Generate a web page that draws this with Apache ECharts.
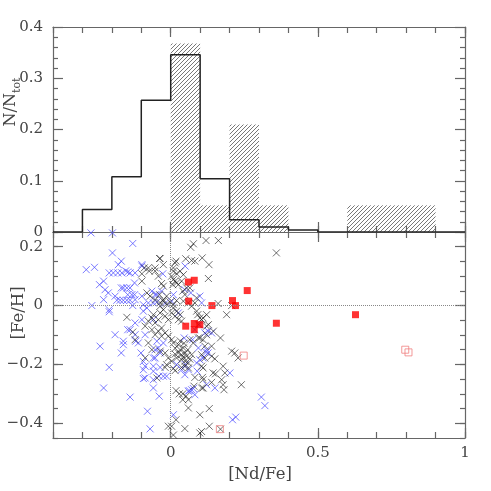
<!DOCTYPE html>
<html><head><meta charset="utf-8">
<script src="https://cdn.jsdelivr.net/npm/echarts@6/dist/echarts.min.js"></script>
<style>html,body{margin:0;padding:0;background:#fff}#c{width:491px;height:491px}</style>
</head><body><div id="c"></div>
<script>
// ---- histogram data (top panel) ----
const binEdges = [-0.4,-0.3,-0.2,-0.1,0,0.1,0.2,0.3,0.4,0.5,0.6,0.7,0.8,0.9,1.0];
const allFrac  = [0,0.044,0.108,0.257,0.346,0.104,0.024,0.010,0.004,0,0,0,0,0];
const starFrac = [0,0,0,0,0.368,0.052,0.21,0.052,0,0,0.052,0.052,0.052,0];

// ---- scatter data (bottom panel): [ [Nd/Fe], [Fe/H] ] ----
const blueX = [
[-0.271,0.247],[-0.198,0.247],[-0.129,0.211],[-0.198,0.179],[-0.287,0.122],[-0.259,0.13],[-0.178,0.139],[-0.168,0.151],
[-0.209,0.111],[-0.195,0.111],[-0.18,0.111],[-0.166,0.111],[-0.153,0.118],[-0.146,0.114],[-0.138,0.111],[-0.121,0.111],[-0.098,0.139],
[-0.242,0.071],[-0.228,0.083],[-0.223,0.054],[-0.212,0.043],[-0.228,0.02],[-0.189,0.032],
[-0.168,0.06],[-0.161,0.06],[-0.149,0.06],[-0.138,0.06],[-0.123,0.077],[-0.146,0.037],[-0.132,0.037],[-0.123,0.037],
[-0.183,0.018],[-0.172,0.018],[-0.161,0.018],[-0.149,0.018],[-0.138,0.018],[-0.121,0.02],
[-0.268,0.0],[-0.209,-0.014],[-0.209,-0.021],[-0.129,0.0],[-0.121,-0.059],[-0.146,-0.082],[-0.138,-0.082],[-0.098,-0.048],
[-0.189,-0.099],[-0.121,-0.099],[-0.119,-0.121],[-0.161,-0.121],[-0.161,-0.133],[-0.168,-0.161],[-0.24,-0.138],[-0.101,-0.161],
[-0.093,-0.19],[-0.093,-0.218],[-0.093,-0.248],[-0.209,-0.21],[-0.228,-0.28],[-0.138,-0.311],[-0.093,-0.019],[-0.11,-0.127],
[-0.079,-0.359],[-0.07,-0.419],[-0.059,-0.178],[-0.059,-0.206],[-0.059,-0.252],[-0.053,-0.15],[-0.042,-0.144],[-0.036,-0.161],
[-0.04,-0.24],[-0.025,-0.24],[-0.014,-0.24],[-0.059,-0.28],[-0.039,-0.308],[0.009,-0.371],[-0.087,-0.099],
[0.048,-0.235],[0.06,-0.218],[0.06,-0.291],[0.071,-0.286],[0.082,-0.303],[0.088,-0.195],[0.099,-0.184],[0.122,-0.15],[0.127,-0.161],
[0.116,-0.093],[0.127,-0.087],[0.139,-0.093],[0.12,-0.159],[0.201,-0.229],[0.122,-0.269],[0.15,-0.28],[0.308,-0.311],[0.32,-0.34],
[0.21,-0.388],[0.221,-0.379],[-0.093,0.003],[-0.081,-0.008],[-0.076,0.009],[-0.059,-0.047],[-0.047,-0.121],[-0.025,-0.127],
[-0.087,-0.206],[-0.053,-0.178],[-0.036,-0.21],[0.094,-0.144],[0.11,-0.178],[0.082,-0.082],[0.099,-0.065],
[-0.098,0.134],[-0.027,0.108],[0.048,0.054],[-0.053,0.037],[-0.047,0.037],[0.009,0.037],[-0.098,0.032],[0.099,0.032],[0.105,0.009],
[-0.047,0.012],[-0.019,0.008],[0.003,0.015],[-0.064,0.049],[-0.031,0.049],[-0.059,0.009],
[0.049,0.134],[0.068,0.043],[0.026,-0.025],[0.046,-0.11],[0.074,-0.116],[0.09,-0.223],[0.02,-0.2],[0.037,-0.218],[0.049,-0.2],
[-0.087,-0.246],[-0.059,-0.223],[0.063,-0.289],[0.077,-0.282]
];
const blackX = [
[0.12,0.221],[0.162,0.221],[0.068,0.198],[0.077,0.21],[-0.038,0.16],[0.018,0.151],[0.051,0.159],[0.071,0.153],[0.082,0.151],[0.107,0.162],[0.13,0.139],[0.128,0.092],[0.359,0.179],
[-0.09,0.128],[-0.073,0.117],[-0.053,0.128],[-0.098,0.108],[-0.098,0.083],[-0.036,0.16],[-0.025,0.139],[-0.076,0.128],[-0.053,0.117],[-0.042,0.1],
[0.015,0.145],[0.009,0.128],[0.009,0.117],[0.02,0.108],[0.032,0.117],[0.043,0.105],[0.003,0.1],[0.009,0.088],[0.015,0.083],[0.02,0.077],[0.007,0.071],[0.026,0.071],[0.037,0.083],
[-0.025,0.066],[-0.031,0.075],[0.054,0.06],[0.065,0.06],[0.048,0.037],[0.041,0.049],[0.088,0.026],[0.161,0.007],[0.207,0.0],[0.19,-0.031],
[-0.081,0.043],[-0.07,0.032],[-0.053,0.02],[-0.038,0.037],[-0.025,0.02],[-0.014,0.032],
[-0.036,0.01],[-0.025,0.015],[-0.014,0.005],[-0.002,0.012],[0.009,0.003],[0.02,0.017],
[0.122,-0.031],[0.11,-0.042],[0.122,-0.07],[0.092,-0.031],[0.128,-0.065],[0.145,-0.087],[0.122,-0.099],[0.099,-0.11],
[-0.059,-0.031],[-0.064,-0.042],[-0.076,-0.053],[-0.053,-0.059],[-0.042,-0.048],[-0.036,-0.025],[-0.025,-0.014],[-0.036,-0.002],[-0.019,-0.036],[-0.008,-0.048],
[0.009,-0.008],[0.02,-0.019],[0.003,-0.025],[0.015,-0.036],[0.032,-0.031],[0.026,-0.048],[0.037,-0.053],[0.043,0.015],[0.06,0.009],[0.071,-0.002],
[-0.087,-0.07],[-0.064,-0.082],[-0.042,-0.087],[-0.031,-0.076],[-0.019,-0.093],[-0.053,-0.099],[-0.031,-0.104],[-0.008,-0.104],[0.003,-0.116],
[0.009,-0.127],[0.026,-0.133],[0.032,-0.15],[0.043,-0.144],[0.026,-0.161],[0.037,-0.167],[0.049,-0.161],[0.054,-0.172],[0.02,-0.178],[0.037,-0.184],[0.049,-0.189],[0.06,-0.195],[0.065,-0.182],[0.071,-0.167],
[0.015,-0.145],[0.032,-0.12],[0.045,-0.128],[0.058,-0.15],[0.015,-0.165],[0.043,-0.175],
[-0.036,-0.155],[-0.019,-0.161],[-0.008,-0.178],[0.003,-0.189],[-0.014,-0.201],[-0.076,-0.127],[-0.064,-0.15],[-0.087,-0.178],
[0.082,0.009],[0.088,-0.019],[0.099,-0.042],[0.094,-0.065],[0.065,-0.116],[0.077,-0.127],[0.094,-0.11],[0.11,-0.116],[0.105,-0.048],
[-0.129,-0.09],[-0.149,-0.04],[-0.121,-0.116],
[0.169,-0.11],[0.116,-0.138],[0.139,-0.138],[0.105,-0.167],[0.116,-0.178],[0.139,-0.172],[0.15,-0.181],[0.105,-0.206],[0.11,-0.212],[0.207,-0.155],[0.218,-0.161],[0.229,-0.178],
[0.178,-0.206],[0.184,-0.229],[0.144,-0.229],[0.152,-0.232],[0.11,-0.252],[0.139,-0.261],[0.173,-0.252],[0.178,-0.269],[0.11,-0.28],[0.181,-0.286],[0.24,-0.269],[0.131,-0.35],[0.131,-0.41],[0.169,-0.42],[0.105,-0.428],
[-0.019,-0.21],[0.009,-0.214],[0.015,-0.221],[0.037,-0.21],[0.048,-0.206],[0.06,-0.212],[-0.047,-0.246],
[0.018,-0.289],[0.029,-0.3],[0.041,-0.3],[0.052,-0.308],[0.041,-0.32],[0.06,-0.32],[0.06,-0.348],[0.099,-0.371],[0.099,-0.433],[0.048,-0.418],[0.018,-0.388],[0.003,-0.41],[-0.008,-0.41],[0.009,-0.44],
[0.082,-0.244],[0.108,-0.244],[0.079,-0.274],[0.105,-0.28]
];
const redFilled = [[0.06,0.08],[0.08,0.086],[0.061,0.015],[0.14,0.0],[0.21,0.017],[0.22,0.0],[0.26,0.051],[0.051,-0.07],[0.08,-0.061],[0.08,-0.082],[0.099,-0.065],[0.359,-0.06],[0.628,-0.031]];
const redOpen = [[0.248,-0.17],[0.797,-0.15],[0.808,-0.159],[0.167,-0.42]];

// ---- tick labels ----
const xTickVals = [0,0.5,1];           const xTickLabels = ['0','0.5','1'];
const topYTickVals = [0,0.1,0.2,0.3,0.4]; const topYTickLabels = ['0','0.1','0.2','0.3','0.4'];
const lowYTickVals = [-0.4,-0.2,0,0.2];  const lowYTickLabels = ['\u22120.4','\u22120.2','0','0.2'];

const FONT = 'DejaVu Serif';
const TXT = '#444';
const AX = {color:'#666', width:1.2};

function fmt(vals, labels){ return v => { for (let i=0;i<vals.length;i++){ if (Math.abs(v-vals[i])<1e-6) return labels[i]; } return ''; }; }

// hatch pattern
const s = 4;
const cv = document.createElement('canvas'); cv.width = s; cv.height = s;
const ctx = cv.getContext('2d');
ctx.strokeStyle = '#555'; ctx.lineWidth = 0.8;
ctx.beginPath();
ctx.moveTo(0,s); ctx.lineTo(s,0);
ctx.moveTo(-1,1); ctx.lineTo(1,-1);
ctx.moveTo(s-1,s+1); ctx.lineTo(s+1,s-1);
ctx.stroke();
const hatch = {image: cv, repeat: 'repeat'};

const hatchData = [];
starFrac.forEach((v,i)=>{ if (v>0) hatchData.push([binEdges[i], binEdges[i+1], v]); });
const stepData = [];
allFrac.forEach((v,i)=>{ stepData.push([binEdges[i], v]); stepData.push([binEdges[i+1], v]); });

function xAxisCfg(grid, pos, long, labels){
  return {gridIndex:grid, type:'value', min:-0.4, max:1, interval:0.1, position:pos,
    axisLine:{show:!long, lineStyle:AX, onZero:false},
    axisTick:long ? {show:true, inside:true, length:10, lineStyle:AX, customValues:xTickVals} : {show:true, inside:true, length:6, lineStyle:AX},
    axisLabel: labels ? {show:true, margin:8, fontFamily:FONT, fontSize:15, color:TXT, formatter:fmt(xTickVals,xTickLabels)} : {show:false},
    splitLine:{show:false}};
}
const xAxes = [
  xAxisCfg(0,'bottom',false,false), xAxisCfg(0,'top',false,false), xAxisCfg(0,'bottom',true,false), xAxisCfg(0,'top',true,false),
  xAxisCfg(1,'bottom',false,true), xAxisCfg(1,'top',false,false), xAxisCfg(1,'bottom',true,false), xAxisCfg(1,'top',true,false)
];
const yAxes = [
  {gridIndex:0, type:'value', min:0, max:0.4, interval:0.1, position:'left',
    axisLine:{show:true, lineStyle:AX, onZero:false}, axisTick:{show:true, inside:true, length:10, lineStyle:AX},
    minorTick:{show:true, splitNumber:5, length:5, lineStyle:AX},
    axisLabel:{show:true, margin:10, fontFamily:FONT, fontSize:15, color:TXT, formatter:fmt(topYTickVals, topYTickLabels)}, splitLine:{show:false}},
  {gridIndex:0, type:'value', min:0, max:0.4, interval:0.1, position:'right',
    axisLine:{show:true, lineStyle:AX, onZero:false}, axisTick:{show:true, inside:true, length:10, lineStyle:AX},
    minorTick:{show:true, splitNumber:5, length:5, lineStyle:AX}, axisLabel:{show:false}, splitLine:{show:false}},
  {gridIndex:1, type:'value', min:-0.45, max:0.25, interval:0.05, position:'left',
    axisLine:{show:true, lineStyle:AX, onZero:false}, axisTick:{show:true, inside:true, length:5, lineStyle:AX},
    axisLabel:{show:true, margin:10, fontFamily:FONT, fontSize:15, color:TXT, formatter:fmt(lowYTickVals, lowYTickLabels)}, splitLine:{show:false}},
  {gridIndex:1, type:'value', min:-0.45, max:0.25, interval:0.05, position:'right',
    axisLine:{show:true, lineStyle:AX, onZero:false}, axisTick:{show:true, inside:true, length:5, lineStyle:AX},
    axisLabel:{show:false}, splitLine:{show:false}},
  {gridIndex:1, type:'value', min:-0.45, max:0.25, interval:0.05, position:'left',
    axisLine:{show:false, onZero:false}, axisTick:{show:true, inside:true, length:10, lineStyle:AX, customValues:lowYTickVals},
    axisLabel:{show:false}, splitLine:{show:false}},
  {gridIndex:1, type:'value', min:-0.45, max:0.25, interval:0.05, position:'right',
    axisLine:{show:false, onZero:false}, axisTick:{show:true, inside:true, length:10, lineStyle:AX, customValues:lowYTickVals},
    axisLabel:{show:false}, splitLine:{show:false}}
];

const XSYM = 'path://M0,0L10,10M10,0L0,10';

const option = {
  animation:false,
  backgroundColor:'#fff',
  grid:[{left:53, top:27, width:412, height:205}, {left:53, top:232, width:412, height:206}],
  xAxis: xAxes,
  yAxis: yAxes,
  series:[
    {type:'custom', xAxisIndex:0, yAxisIndex:0, data:hatchData, silent:true, z:1,
      renderItem:(params, api)=>{
        const p0 = api.coord([api.value(0), api.value(2)]);
        const p1 = api.coord([api.value(1), 0]);
        return {type:'rect', shape:{x:p0[0], y:p0[1], width:p1[0]-p0[0], height:p1[1]-p0[1]}, style:{fill:hatch, stroke:null}};
      }},
    {type:'line', xAxisIndex:0, yAxisIndex:0, data:stepData, showSymbol:false, symbol:'none', silent:true, z:3,
      lineStyle:{color:'#222', width:1.5}},
    {type:'scatter', xAxisIndex:4, yAxisIndex:2, data:blueX, symbol:XSYM, symbolSize:7, silent:true, z:2,
      itemStyle:{color:'transparent', borderColor:'#4d4dff', borderWidth:1, opacity:0.75},
      markLine:{silent:true, symbol:['none','none'], label:{show:false}, animation:false,
        lineStyle:{type:'dotted', color:'#888', width:1}, data:[{xAxis:0},{yAxis:0}]}},
    {type:'scatter', xAxisIndex:4, yAxisIndex:2, data:blackX, symbol:XSYM, symbolSize:7, silent:true, z:3,
      itemStyle:{color:'transparent', borderColor:'#222', borderWidth:1, opacity:0.65}},
    {type:'scatter', xAxisIndex:4, yAxisIndex:2, data:redFilled, symbol:'rect', symbolSize:7, silent:true, z:4,
      itemStyle:{color:'#ff0000'}},
    {type:'scatter', xAxisIndex:4, yAxisIndex:2, data:redOpen, symbol:'rect', symbolSize:7, silent:true, z:4,
      itemStyle:{color:'transparent', borderColor:'#f08080', borderWidth:1}}
  ],
  graphic:[
    {type:'text', x:13, y:102, rotation:Math.PI/2, silent:true,
      style:{text:'{a|N/N}{b|tot}', align:'center', verticalAlign:'middle',
        rich:{a:{fontFamily:FONT, fontSize:16, fill:TXT, verticalAlign:'bottom', padding:[0,0,4,0]},
              b:{fontFamily:FONT, fontSize:11, fill:TXT, verticalAlign:'bottom'}}}},
    {type:'text', x:19, y:313, rotation:Math.PI/2, silent:true,
      style:{text:'[Fe/H]', align:'center', verticalAlign:'middle', fontFamily:FONT, fontSize:16.5, fill:TXT}},
    {type:'text', x:260, y:475, silent:true,
      style:{text:'[Nd/Fe]', align:'center', verticalAlign:'middle', fontFamily:FONT, fontSize:16.5, fill:TXT}}
  ]
};
const chart = echarts.init(document.getElementById('c'), null, {renderer:'canvas'});
chart.setOption(option);
</script></body></html>
